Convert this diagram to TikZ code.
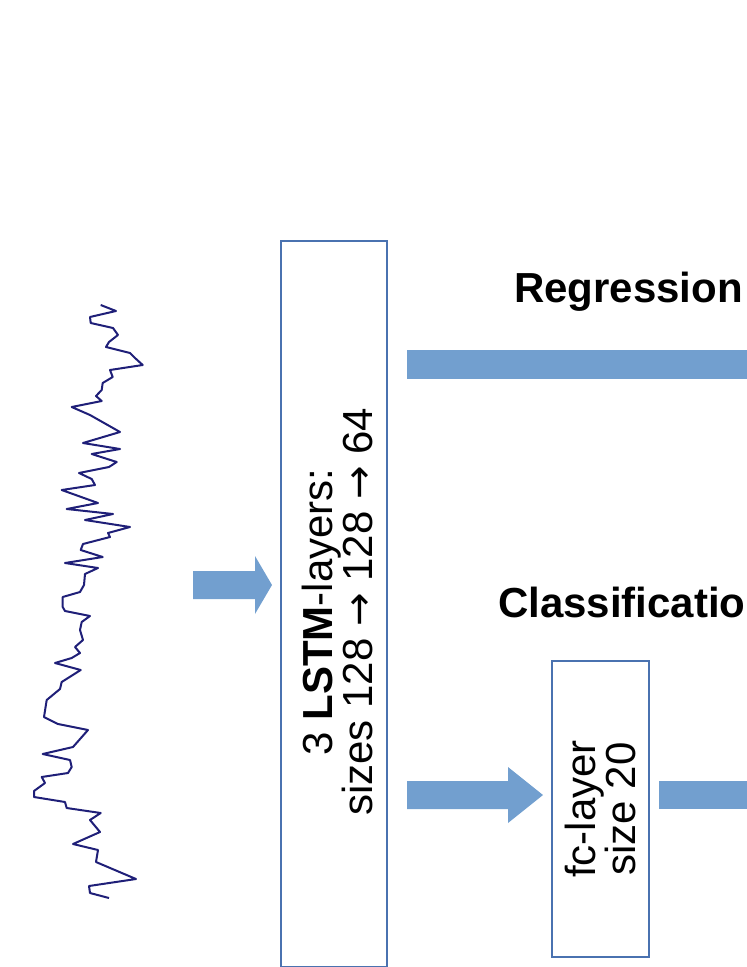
\documentclass[tikz,border=0pt]{standalone}
\usepackage{fontspec}
\setmainfont{Liberation Sans}
\newfontfamily\arrowfont{DejaVu Sans}
\definecolor{arrowblue}{HTML}{729FCF}
\definecolor{boxblue}{HTML}{4A72B0}
\definecolor{signal}{HTML}{1F1F78}
\newcommand{\rarr}{{\arrowfont\fontsize{40}{36}\selectfont →}}
\begin{document}
\begin{tikzpicture}[x=1pt,y=-1pt,
  layerbox/.style={draw=boxblue,line width=1.2pt,fill=white},
  fatarrow/.style={fill=arrowblue,draw=none},
  lbl/.style={font=\fontsize{42}{48}\selectfont\bfseries,anchor=base west,inner sep=0pt},
  rottext/.style={font=\fontsize{42}{40}\selectfont,rotate=90,align=center,inner sep=0pt}]
\useasboundingbox (0,0) rectangle (747,967);
\clip (0,0) rectangle (747,967);
\draw[signal,line width=2pt,line join=round] plot coordinates {
(100.7,305)(116,311)(90,317)(90.7,323)(113,328)(118,335)(109,342)(106,347)(130,353)(135,358)(142.7,365)(110,370)(112.7,377)(102.7,383)(101.7,390)(96,396)(101.7,401)(71.7,407)(90,415)(120,432)(83,443)(120,449)(91.7,454)(116.7,462)(109,467)(79,473)(91.7,479)(95,485)(61.7,490)(98,503)(66.7,509)(113,514)(85,520)(130,527)(108,533)(110,537)(83,544)(80.7,550)(102.7,557)(65,563)(98,568)(85,574)(84,585)(80,592)(62.7,597)(62.7,607)(65,611)(90,616)(81.7,622)(80,630)(83,640)(75,647)(80,653)(71.7,658)(55,663)(80.7,670)(61.7,682)(60,689)(46.7,700)(44,717)(58,724)(88,730)(73,747)(42.7,754)(70,760)(71.7,767)(68,773)(41.7,777)(45,783)(34,791)(34,797)(65,802)(66.7,808)(100.7,813)(90,820)(100,832)(73,844)(98,850)(96,862)(136,879)(89,886)(90,893)(109,898)};
\node[layerbox,minimum width=106pt,minimum height=726pt] (lstm) at (334,604) {};
\node[rottext] (lstmtxt) at (337,612) {3 \textbf{LSTM}-layers:\\sizes 128 \rarr{} 128 \rarr{} 64};
\node[layerbox,minimum width=97pt,minimum height=296pt] (fc) at (600.5,809) {};
\node[rottext] (fctxt) at (fc.center) {fc-layer\\size 20};
\draw[fatarrow] (193,571) -- (255,571) -- (255,556) -- (272,585) -- (255,614) -- (255,599) -- (193,599) -- cycle;
\node[fatarrow,minimum width=340pt,minimum height=29pt,inner sep=0pt] (regbar) at (577,364.5) {};
\draw[fatarrow] (407,781) -- (508,781) -- (508,767) -- (543,795) -- (508,823) -- (508,809) -- (407,809) -- cycle;
\node[fatarrow,minimum width=88pt,minimum height=28pt,inner sep=0pt] (fcbar) at (703,795) {};
\node[lbl] (reg) at (514,302) {Regression};
\node[lbl] (cls) at (498,617) {Classification};
\end{tikzpicture}
\end{document}
